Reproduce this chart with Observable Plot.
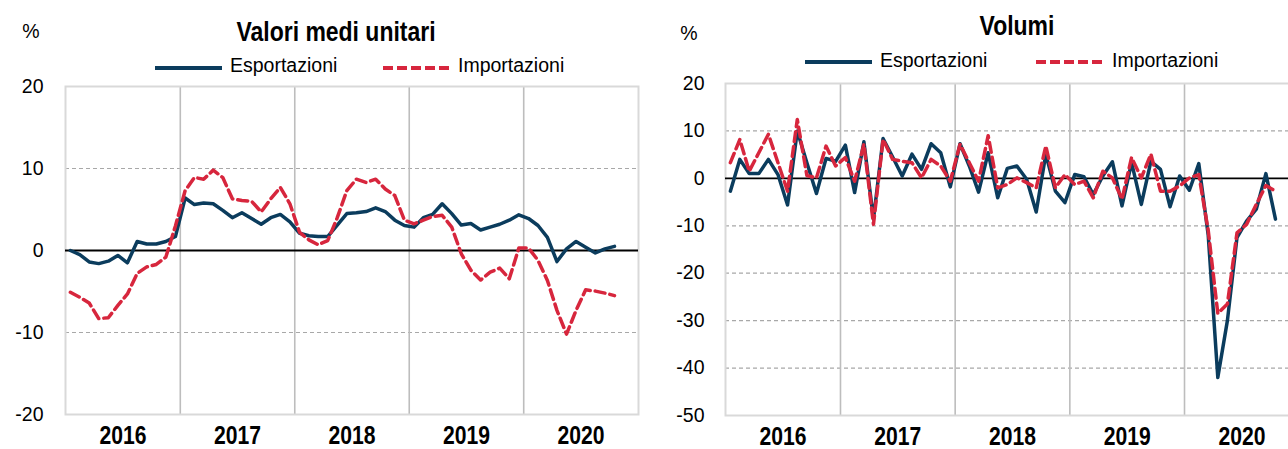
<!DOCTYPE html>
<html>
<head>
<meta charset="utf-8">
<script src="https://cdn.jsdelivr.net/npm/d3@7"></script>
<script src="https://cdn.jsdelivr.net/npm/@observablehq/plot@0.6"></script>
<style>
html, body { margin:0; padding:0; background:#fff; }
body { width:1288px; height:449px; overflow:hidden; position:relative; font-family:"Liberation Sans", Arial, sans-serif; color:#000; }
.abs { position:absolute; white-space:nowrap; line-height:1; }
.title { font-family:"Liberation Sans", Arial, sans-serif; font-weight:bold; font-size:28px; transform:translateX(-50%) scaleX(0.82); }
.unit { font-size:19.5px; transform:translateX(-50%); }
.leg { font-size:19.5px; }
.sw { position:absolute; height:4px; }
</style>
</head>
<body>
<div id="root"></div>
<script>
// ---------- data ----------
const yearLabels = ["2016", "2017", "2018", "2019", "2020"];
const seriesNames = ["Esportazioni", "Importazioni"];
const panelTitles = ["Valori medi unitari", "Volumi"];
const unitLabel = "%";

// monthly observations Jan 2016 - Oct 2020
const valoriEsportazioni = [
  0.0, -0.5, -1.4, -1.6, -1.3, -0.6, -1.5, 1.1, 0.8, 0.8, 1.1, 1.7,
  6.4, 5.6, 5.8, 5.7, 4.9, 4.0, 4.6, 3.9, 3.2, 4.0, 4.4, 3.5,
  2.1, 1.8, 1.7, 1.7, 3.1, 4.5, 4.6, 4.75, 5.2, 4.75, 3.7, 3.05,
  2.85, 4.0, 4.4, 5.7, 4.5, 3.1, 3.3, 2.5, 2.85, 3.2, 3.7, 4.35,
  3.9, 3.05, 1.6, -1.35, 0.2, 1.1, 0.4, -0.3, 0.2, 0.5
];
const valoriImportazioni = [
  -5.1, -5.7, -6.4, -8.3, -8.2, -6.7, -5.3, -2.8, -2.0, -1.7, -0.8, 3.0,
  7.3, 8.9, 8.7, 9.8, 8.9, 6.3, 6.1, 6.0, 4.7, 6.3, 7.7, 5.7,
  2.2, 1.3, 0.7, 1.2, 4.0, 7.3, 8.7, 8.3, 8.7, 7.5, 6.7, 3.7,
  3.25, 3.7, 4.15, 4.3, 2.85, -0.4, -2.4, -3.6, -2.65, -2.15, -3.45, 0.3,
  0.3, -1.2, -3.65, -7.3, -10.2, -7.3, -4.8, -4.95, -5.2, -5.5
];
const volumiEsportazioni = [
  -2.7, 4.0, 1.0, 1.0, 4.0, 0.8, -5.6, 10.0, 3.3, -3.2, 4.2, 3.6,
  7.0, -3.0, 7.7, -8.6, 8.4, 4.5, 0.5, 5.1, 1.9, 7.3, 5.4, -1.8,
  7.3, 2.6, -2.9, 5.4, -4.1, 2.1, 2.6, -0.2, -7.1, 5.1, -2.7, -5.1,
  0.8, 0.35, -3.4, 0.5, 3.5, -5.8, 3.3, -5.5, 3.6, 1.9, -6.0, 0.5,
  -2.5, 3.1, -12.0, -42.0, -30.0, -12.5, -9.0, -6.5, 1.0, -8.6
];
const volumiImportazioni = [
  3.3, 8.2, 1.5, 5.4, 9.3, 3.3, -2.7, 12.4, 0.6, 0.1, 6.8, 2.6,
  4.4, -0.6, 7.2, -9.7, 8.2, 4.0, 3.6, 3.3, 0.1, 4.0, 2.6, -0.6,
  7.2, 3.3, -0.6, 9.0, -2.0, -1.3, 0.1, -0.9, -2.0, 6.8, -2.0, 0.8,
  -1.3, -0.6, -4.1, 1.5, 0.1, -4.4, 4.4, 0.1, 5.1, -2.7, -2.7, -1.6,
  0.1, 0.8, -11.0, -28.5, -26.5, -11.5, -9.7, -5.5, -1.5, -2.7
];
const ticksValori = [-20, -10, 0, 10, 20];
const ticksVolumi = [-50, -40, -30, -20, -10, 0, 10, 20];

// ---------- helpers ----------
const BLUE = "#0b3c5d", RED = "#d7263d";
const start = new Date(Date.UTC(+yearLabels[0], 0, 1));
const monthStarts = d3.utcMonth.range(start, new Date(Date.UTC(2020, 10, 1)));
const monthMid = monthStarts.map(m => new Date((+m + +d3.utcMonth.offset(m, 1)) / 2));
const yearStarts = yearLabels.map(y => new Date(Date.UTC(+y, 0, 1)));
const yearEnd = new Date(Date.UTC(+yearLabels[yearLabels.length - 1] + 1, 0, 1));
const yearMids = yearStarts.map(d => new Date((+d + +d3.utcYear.offset(d, 1)) / 2));

function rows(values) { return values.map((v, i) => ({date: monthMid[i], value: v})); }

function panel({exp, imp, yTicks, width, height, marginLeft, marginTop, marginBottom, marginRight, tickPadY}) {
  const svg = Plot.plot({
    width, height, marginLeft, marginTop, marginBottom, marginRight,
    style: {fontSize: "19.5px", fontFamily: "'Liberation Sans', Arial, sans-serif", color: "#000", background: "transparent", overflow: "visible"},
    x: {type: "utc", domain: [start, yearEnd], ticks: yearMids, tickFormat: d => String(d.getUTCFullYear()), tickSize: 0, tickPadding: 11, label: null},
    y: {domain: [yTicks[0], yTicks[yTicks.length - 1]], ticks: yTicks, tickSize: 0, tickPadding: tickPadY, label: null, tickFormat: d => String(d)},
    marks: [
      Plot.ruleY(yTicks.filter(d => d !== 0 && d !== yTicks[0] && d !== yTicks[yTicks.length - 1]), {stroke: "#a8a8a8", strokeDasharray: "4,3", strokeWidth: 1.2}),
      Plot.ruleX(yearStarts.slice(1), {stroke: "#bdbdbd", strokeWidth: 1.6}),
      Plot.frame({stroke: "#d9d9d9", strokeWidth: 2}),
      Plot.ruleY([0], {stroke: "#000", strokeWidth: 1.8}),
      Plot.line(rows(exp), {x: "date", y: "value", stroke: BLUE, strokeWidth: 3.5, strokeLinejoin: "round"}),
      Plot.line(rows(imp), {x: "date", y: "value", stroke: RED, strokeWidth: 3.5, strokeDasharray: "10,5"})
    ]
  });
  svg.querySelectorAll('g[aria-label="x-axis tick label"] text, g[aria-label="x-axis"] text').forEach(t => {
    t.setAttribute("font-family", "'Liberation Sans', Arial, sans-serif");
    t.setAttribute("font-weight", "bold");
    t.setAttribute("font-size", "26px");
    t.setAttribute("textLength", "47");
    t.setAttribute("lengthAdjust", "spacingAndGlyphs");
  });
  return svg;
}

const root = document.getElementById("root");

function place(el, left, top) {
  el.style.position = "absolute"; el.style.left = left + "px"; el.style.top = top + "px";
  root.appendChild(el);
}
function txt(cls, text, left, top) {
  const d = document.createElement("div"); d.className = "abs " + cls; d.textContent = text;
  d.style.left = left + "px"; d.style.top = top + "px"; root.appendChild(d); return d;
}
function swatch(color, dashed, left, top, w) {
  const d = document.createElement("div"); d.className = "sw";
  d.style.left = left + "px"; d.style.top = (top - 2) + "px"; d.style.width = w + "px";
  d.style.background = dashed ? `repeating-linear-gradient(to right, ${color} 0 10px, transparent 10px 14px)` : color;
  root.appendChild(d);
}

// left panel
place(panel({exp: valoriEsportazioni, imp: valoriImportazioni, yTicks: ticksValori,
  width: 640, height: 373, marginLeft: 65, marginRight: 2, marginTop: 10, marginBottom: 35, tickPadY: 22}), 0, 76);
// right panel (extends past the right border, as in the reference)
place(panel({exp: volumiEsportazioni, imp: volumiImportazioni, yTicks: ticksVolumi,
  width: 661, height: 376, marginLeft: 85, marginRight: 2, marginTop: 10, marginBottom: 34, tickPadY: 21}), 640, 73);

// titles, units, legends
txt("title", panelTitles[0], 336, 18);
txt("title", panelTitles[1], 1017, 12);
txt("unit", unitLabel, 31, 22);
txt("unit", unitLabel, 689, 24);

swatch(BLUE, false, 155, 68, 67); txt("leg", seriesNames[0], 230, 56);
swatch(RED, true, 383, 68, 66); txt("leg", seriesNames[1], 458, 56);
swatch(BLUE, false, 805, 62, 67); txt("leg", seriesNames[0], 880, 51);
swatch(RED, true, 1036, 62, 66); txt("leg", seriesNames[1], 1112, 51);
</script>
</body>
</html>
